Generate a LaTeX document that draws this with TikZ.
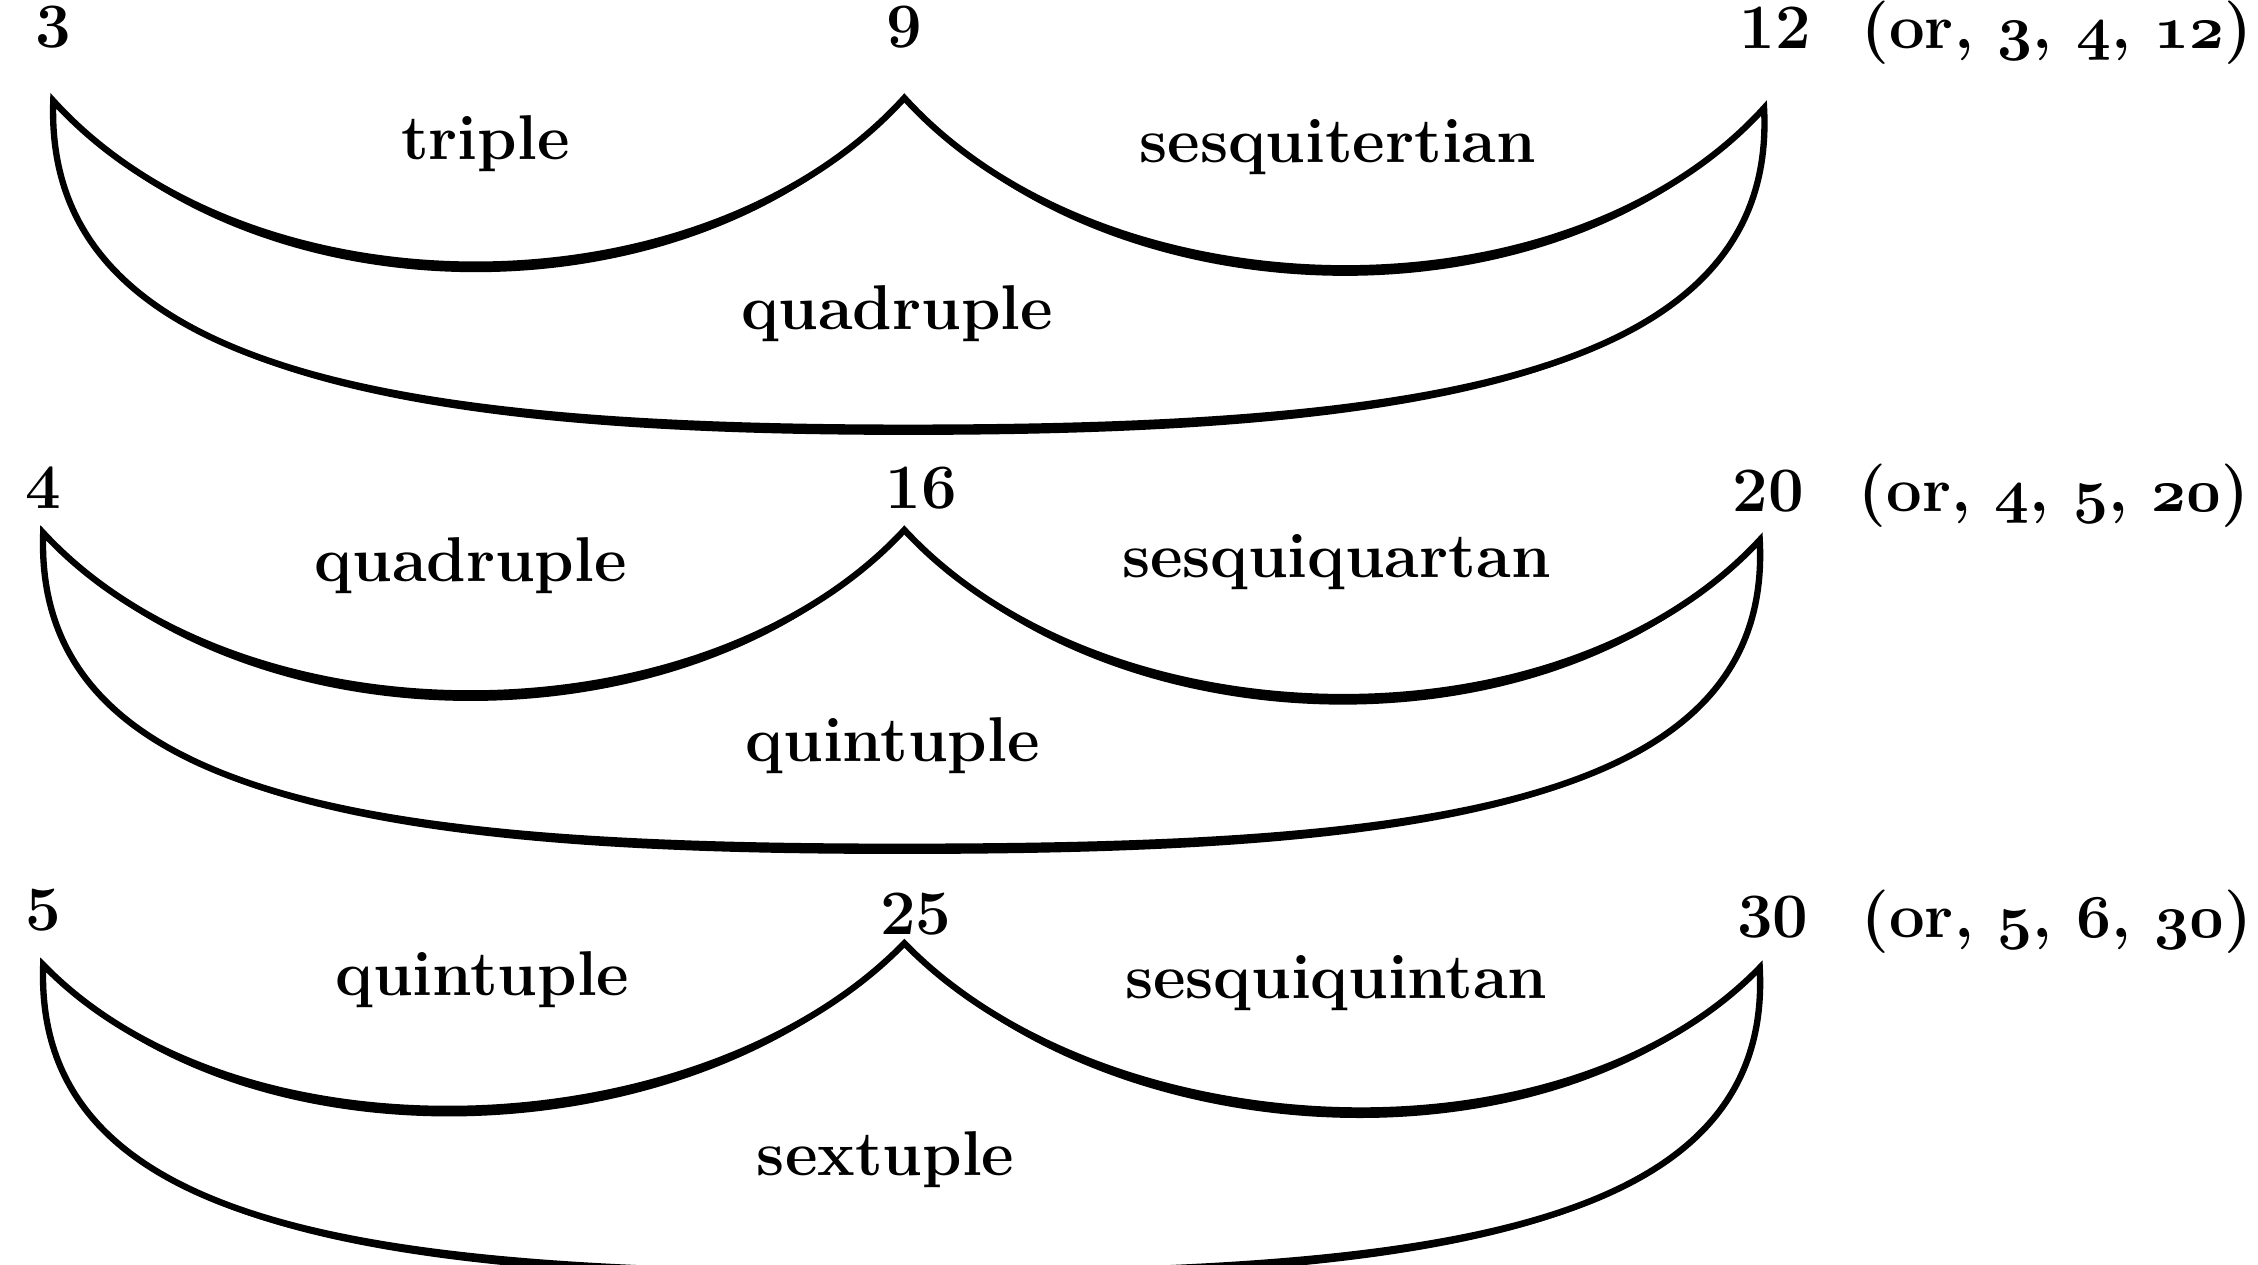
\documentclass[tikz,border=0pt]{standalone}
\usetikzlibrary{calc}
\newcommand\osn[1]{{\usefont{OML}{cmm}{b}{it}#1}}
% #1 L, #2 M, #3 R, #4 B, #5 depth of the small-arc controls
\newcommand\cuprow[5]{%
  \draw[arc] (#1) .. controls ([shift={(139,#5)}]#1) and ([shift={(-139,#5)}]#2) .. (#2)
      .. controls ([shift={(139,#5)}]#2) and ([shift={(-139,#5)}]#3) .. (#3)
      .. controls ([shift={(10,190)}]#3) and ([shift={(350,0)}]#4) .. (#4)
      .. controls ([shift={(-350,0)}]#4) and ([shift={(-7,190)}]#1) .. (#1) -- cycle;
  % heavier ink towards the bottoms
  \fill (#1) .. controls ([shift={(139,#5)}]#1) and ([shift={(-139,#5)}]#2) .. (#2)
      .. controls ([shift={(-139,#5+7)}]#2) and ([shift={(139,#5+7)}]#1) .. (#1) -- cycle;
  \fill (#2) .. controls ([shift={(139,#5)}]#2) and ([shift={(-139,#5)}]#3) .. (#3)
      .. controls ([shift={(-139,#5+7)}]#3) and ([shift={(139,#5+7)}]#2) .. (#2) -- cycle;
  \fill (#1) .. controls ([shift={(-7,190)}]#1) and ([shift={(-350,0)}]#4) .. (#4)
      -- ([shift={(0,5)}]#4) .. controls ([shift={(-350,5)}]#4) and ([shift={(-7,190)}]#1) .. (#1) -- cycle;
  \fill (#3) .. controls ([shift={(10,190)}]#3) and ([shift={(350,0)}]#4) .. (#4)
      -- ([shift={(0,5)}]#4) .. controls ([shift={(350,5)}]#4) and ([shift={(10,190)}]#3) .. (#3) -- cycle;
}
\begin{document}
\begin{tikzpicture}[x=0.01cm,y=-0.01cm,
  arc/.style={line width=1.25pt,line cap=round,line join=miter},
  lbl/.style={font=\fontsize{12.5}{15}\selectfont\bfseries,inner sep=0pt},
  num/.style={font=\fontsize{12.5}{15}\selectfont\bfseries,inner sep=0pt,anchor=base}]
\useasboundingbox (0,0) rectangle (1568,878);
% ---------- row 1 ----------
\coordinate (L1) at (37,70);
\coordinate (M1) at (628,68);
\coordinate (R1) at (1225,75);
\coordinate (B1) at (630,297);
\node[num] (n3)  at (37,33) {3};
\node[num] (n9)  at (628,33) {9};
\node[num] (n12) at (1233,34) {12};
\node[num,anchor=base west] (o1) at (1292,34) {(or, \osn{3}, \osn{4}, \osn{12})};
\node[lbl] (t1a) at (337,100) {triple};
\node[lbl] (t1b) at (929,102) {sesquitertian};
\node[lbl] (t1c) at (623,218) {quadruple};
\cuprow{L1}{M1}{R1}{B1}{153}
% ---------- row 2 ----------
\coordinate (L2) at (30,370);
\coordinate (M2) at (628,368);
\coordinate (R2) at (1222,375);
\coordinate (B2) at (625,588);
\node[num] (n4)  at (30,353) {4};
\node[num] (n16) at (640,353) {16};
\node[num] (n20) at (1228,355) {20};
\node[num,anchor=base west] (o2) at (1290,355) {(or, \osn{4}, \osn{5}, \osn{20})};
\node[lbl] (t2a) at (327,393) {quadruple};
\node[lbl] (t2b) at (928,390) {sesquiquartan};
\node[lbl] (t2c) at (620,518) {quintuple};
\cuprow{L2}{M2}{R2}{B2}{150}
% ---------- row 3 ----------
\coordinate (L3) at (30,670);
\coordinate (M3) at (628,655);
\coordinate (R3) at (1222,672);
\coordinate (B3) at (625,884);
\node[num] (n5)  at (30,646) {5};
\node[num] (n25) at (636,649) {25};
\node[num] (n30) at (1231,651) {30};
\node[num,anchor=base west] (o3) at (1292,651) {(or, \osn{5}, \osn{6}, \osn{30})};
\node[lbl] (t3a) at (335,680) {quintuple};
\node[lbl] (t3b) at (928,683) {sesquiquintan};
\node[lbl] (t3c) at (615,805) {sextuple};
\begin{scope}
\clip (0,0) rectangle (1568,878);
\cuprow{L3}{M3}{R3}{B3}{143}
\end{scope}
\end{tikzpicture}
\end{document}
